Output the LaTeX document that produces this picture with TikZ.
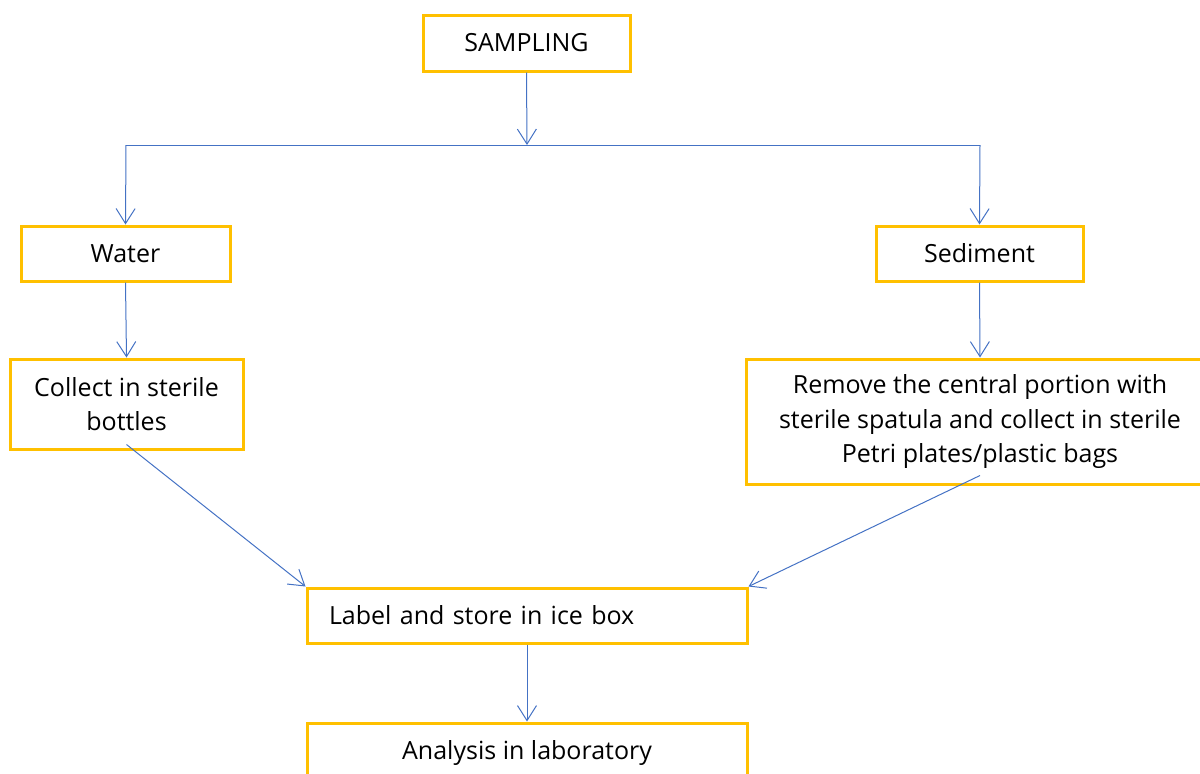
\documentclass[tikz,border=0pt]{standalone}
\usepackage{fontspec}
\setmainfont{Open Sans}
\usetikzlibrary{arrows.meta}
\definecolor{boxgold}{HTML}{FFC000}
\definecolor{lineblue}{HTML}{4472C4}
\begin{document}
\begin{tikzpicture}[x=1pt,y=-1pt,
  box/.style={draw=boxgold, line width=3pt, fill=white, rectangle, inner sep=0pt,
    font=\fontsize{25}{34.5}\selectfont, align=center},
  conn/.style={draw=lineblue, line width=1pt, -{Straight Barb[length=15pt,width=19pt,line width=1pt]}},
  plain/.style={draw=lineblue, line width=1pt}]
\useasboundingbox (0,0) rectangle (1200,774);
\node[box, minimum width=207pt, minimum height=56pt] (samp) at (526.5,43) {SAMPLING};
\node[box, minimum width=209pt, minimum height=55pt] (water) at (125.5,253.5) {Water};
\node[box, minimum width=207pt, minimum height=55pt] (sed) at (979.5,253.5) {Sediment};
\node[box, minimum width=233pt, minimum height=90pt] (collect) at (126.5,404) {Collect in sterile\\bottles};
\node[box, minimum width=468pt, minimum height=125pt] (remove) at (980,421.5) {Remove the central portion with\\sterile spatula and collect in sterile\\Petri plates/plastic bags};
\node[box, minimum width=440pt, minimum height=55pt, text width=396pt, align=left] (label) at (527,615.5) {Label and store in ice box};
\node[box, minimum width=440pt, minimum height=60pt] (analysis) at (527,753) {Analysis in laboratory};
\coordinate (hub) at (527,145);
\coordinate (hl) at (126,145);
\coordinate (hr) at (980,145);
\draw[conn] (samp.south) -- (hub);
\draw[plain] (hl) -- (hr);
\draw[conn] (hl) -- (water.north);
\draw[conn] (hr) -- (sed.north);
\draw[conn] (water.south) -- (collect.north);
\draw[conn] (sed.south) -- (remove.north);
\draw[conn] ([yshift=6pt]collect.south) -- (label.north west);
\draw[conn] ([yshift=10pt]remove.south) -- (label.north east);
\draw[conn] (label.south) -- (analysis.north);
\end{tikzpicture}
\end{document}
